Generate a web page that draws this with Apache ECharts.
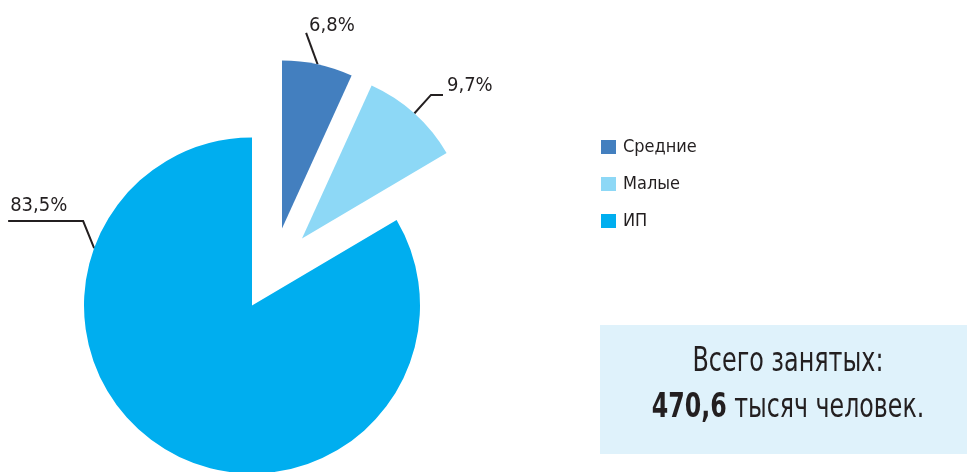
<!DOCTYPE html>
<html>
<head>
<meta charset="utf-8">
<script src="https://cdn.jsdelivr.net/npm/echarts@6/dist/echarts.min.js"></script>
<style>
  html, body { margin: 0; padding: 0; background: #ffffff; }
  #chart { width: 967px; height: 472px; }
</style>
</head>
<body>
<div id="chart"></div>
<script>
// ---- data ----
const categories = ['Средние', 'Малые', 'ИП'];
const shares = [6.8, 9.7, 83.5];
const shareLabels = ['6,8%', '9,7%', '83,5%'];
const totalCaption = 'Всего занятых:';
const totalValue = '470,6';
const totalUnit = ' тысяч человек.';

// ---- style / layout ----
const colors = ['#437fbf', '#8dd8f6', '#00aeef'];
const FONT = '"Liberation Sans Narrow", "DejaVu Sans Condensed", "Roboto Condensed", sans-serif';
const TEXT = '#231f20';
const R = 168;
const C0 = [252, 305.5];
const shifts = [[30, -77], [50, -67], [0, 0]];

function centerOf(k) { return [C0[0] + shifts[k][0], C0[1] + shifts[k][1]]; }
function sliceAngles(k) {
  const total = shares.reduce((a, b) => a + b, 0);
  let before = 0;
  for (let i = 0; i < k; i++) before += shares[i];
  const a0 = 90 - 360 * before / total;
  const a1 = a0 - 360 * shares[k] / total;
  return { a0, a1, mid: (a0 + a1) / 2 };
}
function arcPoint(c, deg, r) {
  const t = deg * Math.PI / 180;
  return [c[0] + r * Math.cos(t), c[1] - r * Math.sin(t)];
}

function guide(k) {
  const c = centerOf(k);
  const ang = sliceAngles(k);
  if (k === 0) {
    const p1 = arcPoint(c, ang.mid, R);
    const p2 = [p1[0] - 11.5, p1[1] - 31.5];
    return { pts: [p1, p2, p2], x: p2[0] + 3, y: p2[1] - 7, align: 'left' };
  } else if (k === 1) {
    const p1 = arcPoint(c, ang.mid, R);
    const p2 = arcPoint(c, ang.mid, R + 25);
    const p3 = [p2[0] + 12, p2[1]];
    return { pts: [p1, p2, p3], x: p3[0] + 4, y: p3[1] - 9, align: 'left' };
  } else {
    const p1 = arcPoint(c, 160, R);
    const p2 = [p1[0] - 11, p1[1] - 27];
    const p3 = [p2[0] - 75, p2[1]];
    return { pts: [p1, p2, p3], x: p3[0] + 2, y: p3[1] - 15, align: 'left' };
  }
}

const series = categories.map((name, k) => ({
  type: 'pie',
  name: name,
  radius: R,
  center: centerOf(k),
  startAngle: 90,
  clockwise: true,
  avoidLabelOverlap: false,
  silent: true,
  animation: false,
  data: categories.map((n, i) => ({
    name: n,
    value: shares[i],
    itemStyle: { color: i === k ? colors[i] : 'rgba(0,0,0,0)' },
    label: { show: i === k },
    labelLine: { show: i === k }
  })),
  label: {
    position: 'outside',
    formatter: (p) => shareLabels[p.dataIndex],
    color: TEXT,
    fontFamily: FONT,
    fontSize: 20
  },
  labelLine: {
    lineStyle: { color: TEXT, width: 2 },
    length: 20, length2: 10
  },
  labelLayout: function (params) {
    if (params.dataIndex !== k) return {};
    const g = guide(k);
    return { x: g.x, y: g.y, align: g.align, verticalAlign: 'middle', labelLinePoints: g.pts };
  }
}));

const chart = echarts.init(document.getElementById('chart'), null, { renderer: 'canvas' });
chart.setOption({
  animation: false,
  legend: {
    orient: 'vertical',
    left: 601,
    top: 137,
    padding: 0,
    itemWidth: 15,
    itemHeight: 14,
    itemGap: 17,
    icon: 'rect',
    selectedMode: false,
    textStyle: { color: TEXT, fontFamily: FONT, fontSize: 18, lineHeight: 20, padding: [0, 0, 0, 2] },
    data: categories.map((n, i) => ({ name: n, itemStyle: { color: colors[i], opacity: 1 } }))
  },
  series: series,
  graphic: [
    {
      type: 'rect',
      shape: { x: 600, y: 325, width: 367, height: 129 },
      style: { fill: '#dff2fb' },
      silent: true
    },
    {
      type: 'text',
      x: 788, y: 362,
      scaleX: 0.78,
      style: {
        text: totalCaption,
        fill: TEXT,
        font: '34px ' + FONT,
        align: 'center',
        verticalAlign: 'middle'
      }
    },
    {
      type: 'text',
      x: 788, y: 408,
      scaleX: 0.775,
      style: {
        text: '{b|' + totalValue + '}{n|' + totalUnit + '}',
        align: 'center',
        verticalAlign: 'middle',
        rich: {
          b: { fontFamily: FONT, fontSize: 34, fontWeight: 'bold', fill: TEXT, color: TEXT },
          n: { fontFamily: FONT, fontSize: 34, fill: TEXT, color: TEXT }
        }
      }
    }
  ]
});
</script>
</body>
</html>
